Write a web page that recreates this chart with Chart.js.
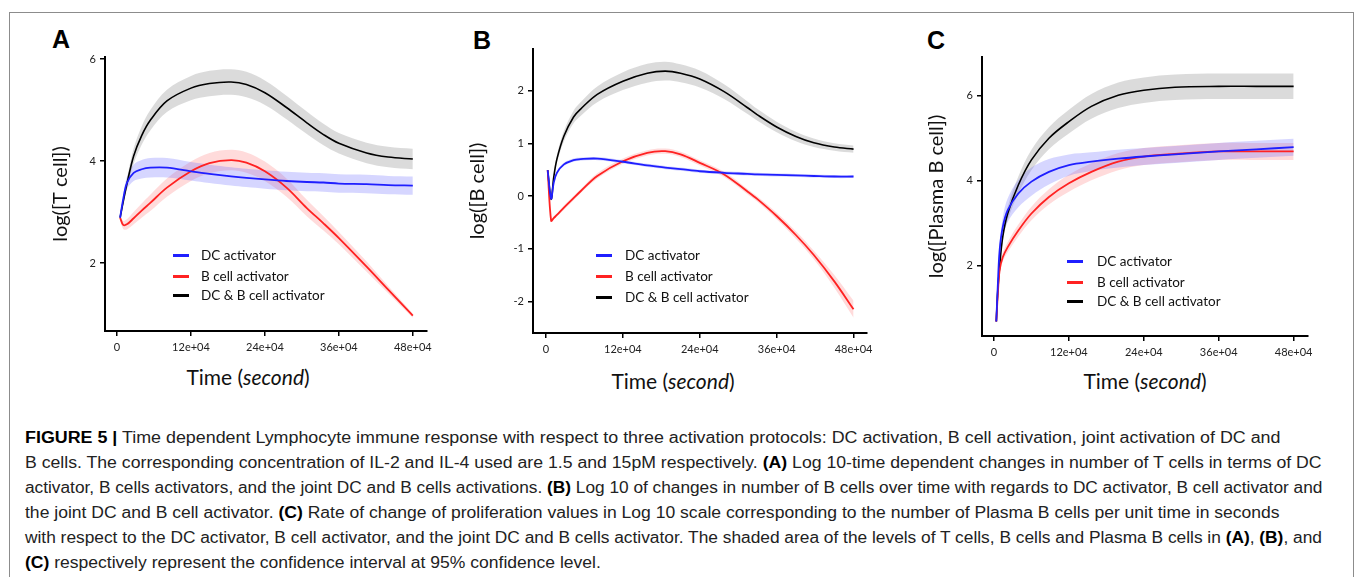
<!DOCTYPE html>
<html>
<head>
<meta charset="utf-8">
<script src="https://cdn.jsdelivr.net/npm/chart.js@4.4.1/dist/chart.umd.min.js"></script>
<style>
  html, body { margin: 0; padding: 0; background: #fff; width: 1355px; height: 577px; overflow: hidden; }
  .frame { position: absolute; left: 9px; top: 12px; width: 1343px; height: 620px; border: 1.5px solid #8c8c8c; }
  canvas { position: absolute; }
  .letter { position: absolute; font-family: "Liberation Sans", Arial, sans-serif; font-weight: bold; font-size: 25px; line-height: 25px; color: #000; }
  .xtitle { position: absolute; font-family: Lato, "Open Sans", sans-serif; font-size: 21px; line-height: 26px; color: #111; transform: translateX(-50%); white-space: nowrap; }
  .legrow { position: absolute; height: 18px; line-height: 18px; font-family: Lato, "Open Sans", sans-serif; font-size: 13.5px; color: #111; white-space: nowrap; }
  .swatch { position: absolute; top: 7.5px; height: 3px; width: 16px; }
  .cap { position: absolute; left: 25px; font-family: "Liberation Sans Narrow", "Liberation Sans", Arial, sans-serif; font-size: 16px; line-height: 25px; color: #222; white-space: nowrap; transform-origin: 0 50%; }
  .cap b { color: #000; }
</style>
</head>
<body>
<div class="frame"></div>

<div class="letter" style="left:52px; top:27px;">A</div>
<div class="letter" style="left:473px; top:28px;">B</div>
<div class="letter" style="left:927px; top:28px;">C</div>

<canvas id="chartA" width="410" height="320" style="left:30px; top:40px;"></canvas>
<canvas id="chartB" width="420" height="330" style="left:460px; top:30px;"></canvas>
<canvas id="chartC" width="415" height="325" style="left:905px; top:40px;"></canvas>

<div class="xtitle" style="left:248px; top:364px;">Time (<i>second</i>)</div>
<div class="xtitle" style="left:673px; top:368px;">Time (<i>second</i>)</div>
<div class="xtitle" style="left:1145px; top:368px;">Time (<i>second</i>)</div>

<div id="legA"></div>
<div id="legB"></div>
<div id="legC"></div>

<div class="cap" style="top:425px;"><b>FIGURE 5 |</b> Time dependent Lymphocyte immune response with respect to three activation protocols: DC activation, B cell activation, joint activation of DC and</div>
<div class="cap" style="top:450px;">B cells. The corresponding concentration of IL-2 and IL-4 used are 1.5 and 15pM respectively. <b>(A)</b> Log 10-time dependent changes in number of T cells in terms of DC</div>
<div class="cap" style="top:475px;">activator, B cells activators, and the joint DC and B cells activations. <b>(B)</b> Log 10 of changes in number of B cells over time with regards to DC activator, B cell activator and</div>
<div class="cap" style="top:500px;">the joint DC and B cell activator. <b>(C)</b> Rate of change of proliferation values in Log 10 scale corresponding to the number of Plasma B cells per unit time in seconds</div>
<div class="cap" style="top:525px;">with respect to the DC activator, B cell activator, and the joint DC and B cells activator. The shaded area of the levels of T cells, B cells and Plasma B cells in <b>(A)</b>, <b>(B)</b>, and</div>
<div class="cap" style="top:550px;"><b>(C)</b> respectively represent the confidence interval at 95% confidence level.</div>

<script>
// series order: DC activator, B cell activator, DC & B cell activator
const seriesNames = ["DC activator", "B cell activator", "DC & B cell activator"];
const lineColors = ["#1f1fff", "#ff2222", "#000000"];
const bandColors = ["rgba(90, 90, 255, 0.25)", "rgba(255, 90, 90, 0.22)", "rgba(0, 0, 0, 0.14)"];

// x axis in units of 1e4 seconds
const xTicks = [0, 12, 24, 36, 48];
const xTickLabels = ["0", "12e+04", "24e+04", "36e+04", "48e+04"];

// A: log([T cell])
const timeA = [0.5, 1.0, 1.6, 2.7, 4.0, 5.4, 8.1, 12, 15, 18.5, 21, 24, 27.5, 30.8, 33.5, 36, 40.5, 44, 48];
const blueA = [2.89, 3.25, 3.57, 3.77, 3.84, 3.87, 3.87, 3.80, 3.75, 3.70, 3.67, 3.64, 3.61, 3.59, 3.58, 3.56, 3.55, 3.53, 3.52];
const redA = [2.89, 2.75, 2.76, 2.88, 3.03, 3.18, 3.48, 3.80, 3.96, 4.02, 3.97, 3.80, 3.48, 3.08, 2.78, 2.49, 1.93, 1.48, 0.97];
const blackA = [2.89, 3.2, 3.55, 4.1, 4.5, 4.8, 5.18, 5.43, 5.52, 5.55, 5.50, 5.34, 5.05, 4.75, 4.52, 4.35, 4.16, 4.08, 4.04];
const blueBandA = [0.03, 0.08, 0.12, 0.16, 0.18, 0.19, 0.19, 0.18, 0.18, 0.18, 0.18, 0.18, 0.18, 0.18, 0.18, 0.18, 0.18, 0.18, 0.18];
const redBandA = [0.03, 0.08, 0.1, 0.12, 0.14, 0.16, 0.18, 0.19, 0.2, 0.2, 0.2, 0.19, 0.18, 0.16, 0.14, 0.12, 0.1, 0.07, 0.04];
const blackBandA = [0.03, 0.06, 0.1, 0.15, 0.18, 0.2, 0.22, 0.24, 0.25, 0.25, 0.25, 0.24, 0.23, 0.22, 0.21, 0.2, 0.2, 0.2, 0.2];
const yTicksA = [2, 4, 6];

// B: log([B cell])
const timeB = [0.26, 0.8, 1.2, 1.7, 2.8, 4.3, 5.4, 8, 12, 15.8, 18.6, 21, 24, 27.8, 31.4, 33, 36, 39, 41.8, 45, 48];
const blueB = [0.49, -0.05, 0.25, 0.44, 0.60, 0.68, 0.70, 0.71, 0.65, 0.58, 0.54, 0.51, 0.47, 0.44, 0.42, 0.41, 0.40, 0.39, 0.38, 0.37, 0.37];
const redB = [0.49, -0.47, -0.42, -0.36, -0.22, -0.04, 0.09, 0.38, 0.66, 0.82, 0.85, 0.79, 0.63, 0.41, 0.09, -0.06, -0.38, -0.74, -1.12, -1.62, -2.15];
const blackB = [0.49, -0.06, 0.35, 0.70, 1.14, 1.50, 1.65, 1.93, 2.18, 2.33, 2.37, 2.33, 2.22, 1.98, 1.68, 1.54, 1.31, 1.13, 1.01, 0.93, 0.89];
const blueBandB = [0.01, 0.02, 0.03, 0.03, 0.03, 0.03, 0.03, 0.03, 0.03, 0.03, 0.03, 0.03, 0.03, 0.03, 0.03, 0.03, 0.03, 0.03, 0.03, 0.03, 0.03];
const redBandB = [0.01, 0.02, 0.03, 0.03, 0.04, 0.04, 0.04, 0.05, 0.05, 0.05, 0.05, 0.05, 0.05, 0.05, 0.05, 0.05, 0.06, 0.07, 0.08, 0.12, 0.16];
const blackBandB = [0.02, 0.03, 0.06, 0.08, 0.1, 0.12, 0.13, 0.15, 0.17, 0.18, 0.18, 0.17, 0.16, 0.14, 0.12, 0.11, 0.1, 0.09, 0.08, 0.07, 0.07];
const yTicksB = [-2, -1, 0, 1, 2];

// C: log([Plasma B cell])
const timeC = [0.37, 0.6, 0.9, 1.4, 2.2, 3.9, 6, 8.8, 12, 15.6, 19.9, 24, 29, 36, 42, 48];
const blueC = [0.69, 1.5, 2.36, 2.91, 3.31, 3.70, 3.98, 4.21, 4.37, 4.45, 4.52, 4.57, 4.62, 4.69, 4.74, 4.79];
const redC = [0.69, 1.3, 1.89, 2.2, 2.44, 2.83, 3.23, 3.62, 3.94, 4.21, 4.45, 4.57, 4.63, 4.69, 4.69, 4.69];
const blackC = [0.69, 1.4, 1.97, 2.68, 3.23, 3.90, 4.49, 5.0, 5.39, 5.75, 6.01, 6.13, 6.20, 6.22, 6.22, 6.22];
const blueBandC = [0.02, 0.08, 0.15, 0.22, 0.28, 0.32, 0.33, 0.3, 0.25, 0.22, 0.21, 0.2, 0.2, 0.2, 0.2, 0.2];
const redBandC = [0.02, 0.05, 0.08, 0.1, 0.12, 0.14, 0.16, 0.18, 0.2, 0.2, 0.2, 0.2, 0.2, 0.2, 0.2, 0.2];
const blackBandC = [0.02, 0.05, 0.08, 0.12, 0.16, 0.2, 0.24, 0.26, 0.28, 0.29, 0.3, 0.3, 0.3, 0.3, 0.3, 0.3];
const yTicksC = [2, 4, 6];

const tickFont = { family: "Lato, 'Open Sans', sans-serif", size: 11 };

function points(t, v, band, sign) {
  return t.map((x, i) => ({ x: x, y: band ? v[i] + sign * band[i] : v[i] }));
}

function makePanel(id, p) {
  const datasets = [];
  // lines first so they sit on top of the bands
  p.series.forEach((v, k) => {
    datasets.push({
      label: seriesNames[k],
      data: points(p.time, v),
      borderColor: lineColors[k],
      borderWidth: k === 2 ? 1.6 : 1.8,
      pointRadius: 0,
      tension: 0.35,
      fill: false,
    });
  });
  p.series.forEach((v, k) => {
    datasets.push({
      label: seriesNames[k] + " upper",
      data: points(p.time, v, p.bands[k], 1),
      borderWidth: 0,
      pointRadius: 0,
      tension: 0.35,
      backgroundColor: bandColors[k],
      fill: "+1",
    });
    datasets.push({
      label: seriesNames[k] + " lower",
      data: points(p.time, v, p.bands[k], -1),
      borderWidth: 0,
      pointRadius: 0,
      tension: 0.35,
      fill: false,
    });
  });

  new Chart(document.getElementById(id), {
    type: "line",
    data: { datasets: datasets },
    options: {
      responsive: false,
      animation: false,
      layout: { padding: { top: p.padTop, right: p.padRight, left: 0, bottom: 0 } },
      plugins: {
        legend: { display: false },
        tooltip: { enabled: false },
        filler: { drawTime: "beforeDatasetsDraw" },
      },
      scales: {
        x: {
          type: "linear",
          min: p.xMin,
          max: p.xMax,
          afterBuildTicks: (axis) => { axis.ticks = xTicks.map((v) => ({ value: v })); },
          afterFit: (axis) => { axis.height = p.xAxisHeight; },
          ticks: {
            autoSkip: false,
            maxRotation: 0,
            padding: 5,
            font: tickFont,
            color: "#222",
            callback: (value, index) => xTickLabels[index],
          },
          grid: { drawOnChartArea: false, tickLength: 5, color: "#000", lineWidth: 1.5 },
          border: { color: "#000", width: 2 },
        },
        y: {
          type: "linear",
          min: p.yMin,
          max: p.yMax,
          afterBuildTicks: (axis) => { axis.ticks = p.yTicks.map((v) => ({ value: v })); },
          afterFit: (axis) => { axis.width = p.yAxisWidth; },
          ticks: { padding: 4, font: tickFont, color: "#222", callback: (value) => String(value) },
          grid: { drawOnChartArea: false, tickLength: 5, color: "#000", lineWidth: 1.5 },
          border: { color: "#000", width: 2 },
          title: {
            display: true,
            text: p.yTitle,
            color: "#111",
            font: { family: "Lato, 'Open Sans', sans-serif", size: 20 },
            padding: { top: p.titlePad, bottom: 0 },
          },
        },
      },
    },
  });
}

function makeLegend(id, swatchX, textX, rows) {
  const box = document.getElementById(id);
  seriesNames.forEach((name, k) => {
    const row = document.createElement("div");
    row.className = "legrow";
    row.style.left = swatchX + "px";
    row.style.top = (rows[k] - 9) + "px";
    const sw = document.createElement("span");
    sw.className = "swatch";
    sw.style.left = "0px";
    sw.style.background = lineColors[k];
    const tx = document.createElement("span");
    tx.style.position = "absolute";
    tx.style.left = (textX - swatchX) + "px";
    tx.textContent = name;
    row.appendChild(sw);
    row.appendChild(tx);
    box.appendChild(row);
  });
}

makePanel("chartA", {
  time: timeA, series: [blueA, redA, blackA], bands: [blueBandA, redBandA, blackBandA],
  xMin: -1.95, xMax: 50.3, yMin: 0.67, yMax: 6.04, yTicks: yTicksA,
  padTop: 17, padRight: 13, yAxisWidth: 75, xAxisHeight: 29, titlePad: 19,
  yTitle: "log([T cell])",
});
makePanel("chartB", {
  time: timeB, series: [blueB, redB, blackB], bands: [blueBandB, redBandB, blackBandB],
  xMin: -2.03, xMax: 50.1, yMin: -2.6, yMax: 2.79, yTicks: yTicksB,
  padTop: 19, padRight: 13, yAxisWidth: 73, xAxisHeight: 27, titlePad: 6,
  yTitle: "log([B cell])",
});
makePanel("chartC", {
  time: timeC, series: [blueC, redC, blackC], bands: [blueBandC, redBandC, blackBandC],
  xMin: -1.92, xMax: 50.3, yMin: 0.35, yMax: 6.91, yTicks: yTicksC,
  padTop: 17, padRight: 12, yAxisWidth: 77, xAxisHeight: 29, titlePad: 20,
  yTitle: "log([Plasma B cell])",
});

makeLegend("legA", 173, 201, [255, 276, 295]);
makeLegend("legB", 596, 625, [255, 276, 297]);
makeLegend("legC", 1067, 1097, [261, 282, 301]);

// stretch caption lines so their ends match the printed block
const capTargets = [1255, 1297, 1297, 1255, 1297, null];
const capLines = document.querySelectorAll(".cap");
let scales = [];
capLines.forEach((el, i) => {
  if (capTargets[i]) {
    const s = capTargets[i] / el.scrollWidth;
    scales.push(s);
    el.style.transform = "scaleX(" + s + ")";
  }
});
const avgScale = scales.reduce((a, b) => a + b, 0) / scales.length;
capLines[5].style.transform = "scaleX(" + avgScale + ")";
</script>
</body>
</html>
